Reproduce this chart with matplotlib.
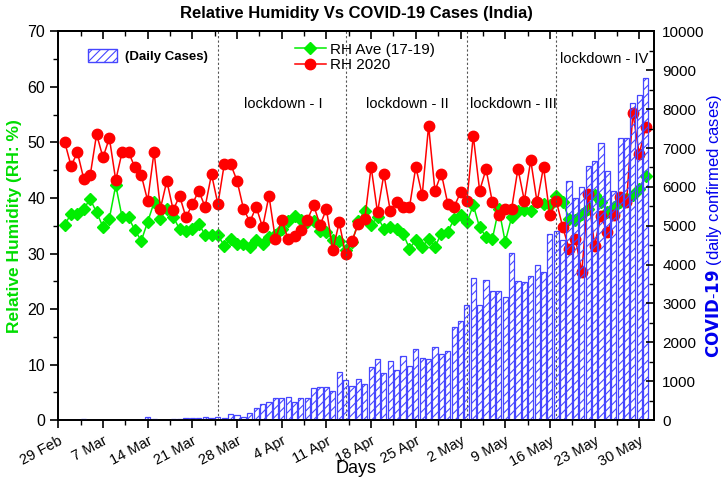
import matplotlib
matplotlib.use('Agg')
import matplotlib.pyplot as plt
from matplotlib.ticker import MultipleLocator
from matplotlib.patches import Patch

plt.rcParams['font.family'] = ['Liberation Sans', 'DejaVu Sans']

# day 0 = 29 Feb 2020, data from 1 Mar (day 1) to 31 May (day 92)
days = list(range(1, 93))

rh_ave = [35.1, 37.2, 37.1, 38.1, 39.8, 37.4, 34.8, 36.3, 42.3, 36.5,
          36.5, 34.2, 32.3, 35.7, 39.2, 36.3, 38.0, 36.6, 34.4, 34.1,
          34.4, 35.4, 33.3, 33.3, 33.3, 31.4, 32.7, 31.7, 31.7, 31.2,
          32.4, 31.8, 33.0, 33.3, 34.5, 35.8, 36.8, 36.0, 35.6, 35.8,
          34.0, 33.9, 32.4, 32.3, 30.7, 32.0, 35.8, 37.7, 35.1, 36.6,
          34.5, 34.8, 34.5, 33.6, 30.9, 32.4, 31.2, 32.6, 31.2, 33.6,
          33.9, 36.2, 36.9, 35.6, 38.7, 34.7, 33.0, 32.7, 38.1, 32.1,
          36.5, 37.7, 37.8, 37.7, 39.2, 39.0, 38.7, 40.4, 39.3, 36.3,
          36.0, 37.2, 38.1, 40.5, 39.3, 37.5, 38.4, 39.3, 39.9, 40.5,
          41.7, 44.0]

rh_2020 = [50.1, 45.8, 48.2, 43.4, 44.1, 51.5, 47.3, 50.8, 43.2, 48.3,
           48.3, 45.5, 44.1, 39.5, 48.3, 38.1, 43.1, 37.8, 40.4, 36.5,
           38.9, 41.3, 38.4, 44.3, 38.9, 46.1, 46.1, 43.1, 38.1, 35.7,
           38.4, 34.7, 40.4, 32.6, 36.0, 32.6, 33.2, 34.2, 36.0, 38.7,
           35.1, 38.0, 30.6, 35.6, 29.9, 32.3, 35.3, 36.2, 45.6, 37.4,
           44.3, 37.7, 39.2, 38.3, 38.3, 45.6, 40.5, 53.0, 41.3, 44.4,
           39.0, 38.4, 41.0, 39.5, 51.2, 41.3, 45.2, 39.2, 36.9, 38.0,
           38.0, 45.3, 39.5, 46.8, 39.2, 45.6, 36.9, 39.5, 34.8, 30.9,
           32.6, 26.7, 40.7, 31.4, 36.8, 33.9, 36.9, 40.1, 39.2, 55.3,
           47.9, 52.8]

daily_cases = [0, 0, 0, 25, 0, 0, 0, 0, 0, 0,
               0, 0, 0, 80, 25, 0, 0, 20, 25, 40,
               55, 60, 80, 60, 86, 43, 146, 129, 86, 172,
               300, 412, 472, 558, 558, 600, 472, 558, 558, 815,
               858, 841, 755, 1244, 1030, 875, 1047, 918, 1356, 1562,
               1218, 1519, 1287, 1647, 1398, 1819, 1604, 1562, 1888, 1690,
               1785, 2385, 2557, 2952, 3647, 2952, 3604, 3329, 3329, 3157,
               4307, 3586, 3561, 3715, 3990, 3801, 4788, 4865, 4633, 6152,
               5723, 6006, 6538, 6675, 7121, 6409, 5903, 7250, 7250, 8151,
               8366, 8795]

tick_days = [0, 7, 14, 21, 28, 35, 42, 49, 56, 63, 70, 77, 84, 91]
tick_labels = ['29 Feb', '7 Mar', '14 Mar', '21 Mar', '28 Mar', '4 Apr', '11 Apr',
               '18 Apr', '25 Apr', '2 May', '9 May', '16 May', '23 May', '30 May']

lockdown_days = [25, 45, 64, 78]
lockdown_names = ['lockdown - I', 'lockdown - II', 'lockdown - III', 'lockdown - IV']
lockdown_text_pos = [(35.3, 57), (54.7, 57), (71.3, 57), (85.5, 65)]

fig = plt.figure(figsize=(7.25, 4.83), dpi=100)
ax = fig.add_axes([0.0804, 0.1304, 0.8216, 0.8044])
ax2 = ax.twinx()

# humidity lines
ax.plot(days, rh_ave, color='#00ee00', marker='D', markersize=6.5, linewidth=1.1,
        label='RH Ave (17-19)')
ax.plot(days, rh_2020, color='#ff0000', marker='o', markersize=7.5, linewidth=1.1,
        label='RH 2020')

for d in lockdown_days:
    ax.axvline(d, color='#555555', linestyle=(0, (2, 2)), linewidth=0.8)
for name, (tx, ty) in zip(lockdown_names, lockdown_text_pos):
    ax.text(tx, ty, name, ha='center', va='center', fontsize=10.5)

# daily cases bars (hatched, no fill)
plt.rcParams['hatch.linewidth'] = 0.8
ax2.bar(days, daily_cases, width=0.8, facecolor='none', edgecolor='#4646ff',
        hatch='////', linewidth=0.9)

ax.set_xlim(0, 93.3)
ax.set_ylim(0, 70)
ax2.set_ylim(0, 10000)

ax.set_xticks(tick_days)
ax.set_xticklabels(tick_labels, rotation=28, ha='right', rotation_mode='anchor')
ax.xaxis.set_minor_locator(MultipleLocator(3.5))
ax.yaxis.set_major_locator(MultipleLocator(10))
ax.yaxis.set_minor_locator(MultipleLocator(5))
ax2.yaxis.set_major_locator(MultipleLocator(1000))
ax2.yaxis.set_minor_locator(MultipleLocator(500))

ax.tick_params(axis='x', which='major', direction='out', length=6, width=1.2, labelsize=10.5, pad=4)
ax.tick_params(axis='x', which='minor', direction='out', length=3.5, width=1.0)
ax.tick_params(axis='y', which='major', direction='out', length=6, width=1.2, labelsize=11.5)
ax.tick_params(axis='y', which='minor', direction='out', length=3.5, width=1.0)
ax2.tick_params(axis='y', which='major', direction='in', length=6, width=1.2, labelsize=11, pad=6)
ax2.tick_params(axis='y', which='minor', direction='in', length=3.5, width=1.0)

top = ax.secondary_xaxis('top')
top.set_xticks(tick_days)
top.set_xticklabels([])
top.xaxis.set_minor_locator(MultipleLocator(3.5))
top.tick_params(which='major', direction='in', length=6, width=1.2)
top.tick_params(which='minor', direction='in', length=3.5, width=1.0)

for a in (ax, ax2):
    for s in a.spines.values():
        s.set_linewidth(1.3)
top.spines['top'].set_linewidth(1.3)

ax.set_xlabel('Days', fontsize=13)
ax.xaxis.set_label_coords(0.5, -0.104)
ax.set_ylabel('Relative Humidity (RH: %)', color='#00dd00', fontsize=12.5, fontweight='bold', labelpad=4)
ax2.set_ylabel(r'$\mathbf{COVID}$-$\mathbf{19}$ (daily confirmed cases)', color='#0000ee',
               fontsize=12)
ax2.yaxis.set_label_coords(1.084, 0.5)
ax.set_title('Relative Humidity Vs COVID-19 Cases (India)', fontsize=12, fontweight='bold', pad=10)

leg1 = ax.legend(loc='upper center', bbox_to_anchor=(0.515, 0.995), frameon=False,
                 fontsize=11, handlelength=2.0, handletextpad=0.3,
                 labelspacing=0.1, borderaxespad=0.2)
bar_handle = Patch(facecolor='none', edgecolor='#4646ff', hatch='////')
leg2 = ax2.legend([bar_handle], ['(Daily Cases)'], loc='upper left',
                  bbox_to_anchor=(0.03, 0.985), frameon=False, handlelength=2.2,
                  handleheight=1.1, handletextpad=0.6,
                  prop={'weight': 'bold', 'size': 9.5})

fig.savefig('out.png', dpi=100)
